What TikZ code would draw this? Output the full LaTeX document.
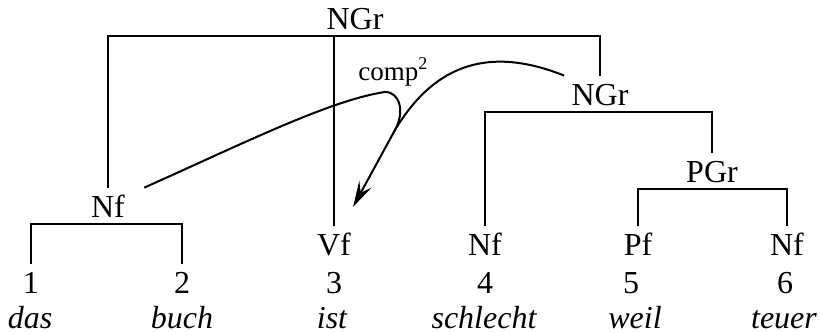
\documentclass[tikz,border=0pt]{standalone}
\usepackage{fontspec}
\setmainfont{Liberation Serif}
\usetikzlibrary{arrows.meta, calc}
\tikzset{
  cat/.style={
    font=\fontsize{16}{19}\selectfont,
    inner sep=3.5pt,
    text height=11pt,
    text depth=0pt,
    anchor=base
  },
  word/.style={
    font=\fontsize{16}{19}\selectfont\itshape,
    inner sep=0pt,
    anchor=base
  },
  tree/.style={
    line width=1pt
  },
  link/.style={
    line width=1pt
  },
  linkarrow/.style={
    -{Stealth[length=13pt, width=7pt, inset=5pt]},
    line width=1pt
  },
  lbl/.style={
    font=\fontsize{13.5}{16}\selectfont,
    inner sep=0pt
  }
}
\begin{document}
\begin{tikzpicture}[x=0.5pt, y=-0.5pt]
  \useasboundingbox (0,0) rectangle (821,332);

  % Categories
  \node (ngrTop) [cat] at (355,29) {NGr};
  \node (ngrMid) [cat] at (600,105) {NGr};
  \node (pgr) [cat] at (712,182) {PGr};
  \node (nfLeft) [cat] at (108,217) {Nf};
  \node (vf) [cat] at (334,255) {Vf};
  \node (nf4) [cat] at (485,255) {Nf};
  \node (pf) [cat] at (638,255) {Pf};
  \node (nf6) [cat] at (787,255) {Nf};

  % Positions
  \node (num1) [cat] at (31,293) {1};
  \node (num2) [cat] at (182,293) {2};
  \node (num3) [cat] at (334,293) {3};
  \node (num4) [cat] at (485,293) {4};
  \node (num5) [cat] at (631,293) {5};
  \node (num6) [cat] at (785,293) {6};

  % Words
  \node (das) [word] at (30,328) {das};
  \node (buch) [word] at (182,328) {buch};
  \node (ist) [word] at (332,328) {ist};
  \node (schlecht) [word] at (484,328) {schlecht};
  \node (weil) [word] at (635,328) {weil};
  \node (teuer) [word] at (784,328) {teuer};

  % Tree
  \draw [tree] (nfLeft.north) |- (ngrTop.south) -| (ngrMid.north);
  \draw [tree] (vf.north) -- (vf.north |- ngrTop.south);
  \draw [tree] (nf4.north) |- (ngrMid.south) -| (pgr.north);
  \draw [tree] (pf.north) |- (pgr.south) -| (nf6.north);
  \draw [tree] (num1.north) |- (nfLeft.south) -| (num2.north);

  % Dependency
  \coordinate (join) at (395,130);
  \coordinate (tip) at (353,207);
  \node (comp) [lbl, anchor=base west] at (358,80) {comp\textsuperscript{\fontsize{9}{10}\selectfont 2}};
  \draw [linkarrow] (ngrMid.north west) .. controls (500,50) and (440,55) .. (join) -- (tip);
  \draw [link] ([xshift=6pt]nfLeft.north east) .. controls (240,145) and (330,100) .. (385,92)
    .. controls (400,92) and (405,112) .. (join);

\end{tikzpicture}
\end{document}
